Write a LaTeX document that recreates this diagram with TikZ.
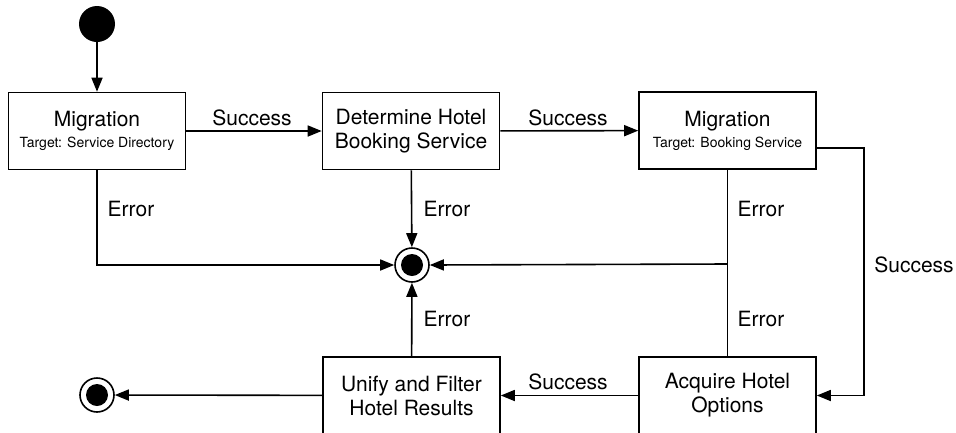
\documentclass[tikz,border=0pt]{standalone}
\usepackage{fontspec}
\setmainfont{TeX Gyre Heros}
\usetikzlibrary{arrows.meta}
\begin{document}
\begin{tikzpicture}[x=1pt,y=-1pt,
  statebox/.style={draw,line width=1.6pt,minimum width=177pt,minimum height=77pt,inner sep=0pt,align=center,font=\fontsize{21}{24}\selectfont},
  arr/.style={line width=1.6pt,-{Triangle[length=14pt,width=11pt]}},
  ln/.style={line width=1.6pt},
  lbl/.style={font=\fontsize{21}{24}\selectfont,inner sep=0pt},
  small/.style={font=\fontsize{14}{16}\selectfont},
  endstate/.style={circle,draw,line width=1.6pt,minimum size=34pt,inner sep=0pt,path picture={\fill (path picture bounding box.center) circle (11pt);}}
]
\useasboundingbox (0,0) rectangle (956,432);
\clip (0,0) rectangle (956,432);
\node[circle,fill=black,minimum size=36pt,inner sep=0pt] (init) at (97,24) {};
\node[statebox] (m1) at (97,131) {Migration\\[-3pt]{\fontsize{14}{16}\selectfont Target: Service Directory}};
\node[statebox] (det) at (411,131) {Determine Hotel\\Booking Service};
\node[statebox] (m2) at (727.5,130.5) {Migration\\[-3pt]{\fontsize{14}{16}\selectfont Target: Booking Service}};
\node[statebox] (acq) at (727.5,395.5) {Acquire Hotel\\Options};
\node[statebox] (uni) at (411.5,395.5) {Unify and Filter\\Hotel Results};
\node[endstate] (endc) at (412,265) {};
\node[endstate] (endf) at (97,395) {};
\coordinate (j1) at (727.5,264);
\coordinate (s1) at (817,148);
\coordinate (s2) at (864,148);
\draw[arr] (init) -- (m1);
\draw[arr] (m1) -- (det);
\draw[arr] (det) -- (m2);
\draw[arr] (det) -- (endc);
\draw[arr] (m1.south) |- (endc.west);
\draw[ln] (m2.south) -- (acq.north);
\draw[arr] (j1) -- (endc.east);
\draw[arr] (s1) -- (s2) |- (acq.east);
\draw[arr] (acq) -- (uni);
\draw[arr] (uni) -- (endc);
\draw[arr] (uni) -- (endf);
\node[lbl] (l1) at (252,118) {Success};
\node[lbl] (l2) at (568,118) {Success};
\node[lbl] (l3) at (131,209) {Error};
\node[lbl] (l4) at (447,209) {Error};
\node[lbl] (l5) at (761,209) {Error};
\node[lbl] (l6) at (761,319) {Error};
\node[lbl] (l7) at (447,319) {Error};
\node[lbl] (l8) at (914,265) {Success};
\node[lbl] (l9) at (568,382) {Success};
\end{tikzpicture}
\end{document}
